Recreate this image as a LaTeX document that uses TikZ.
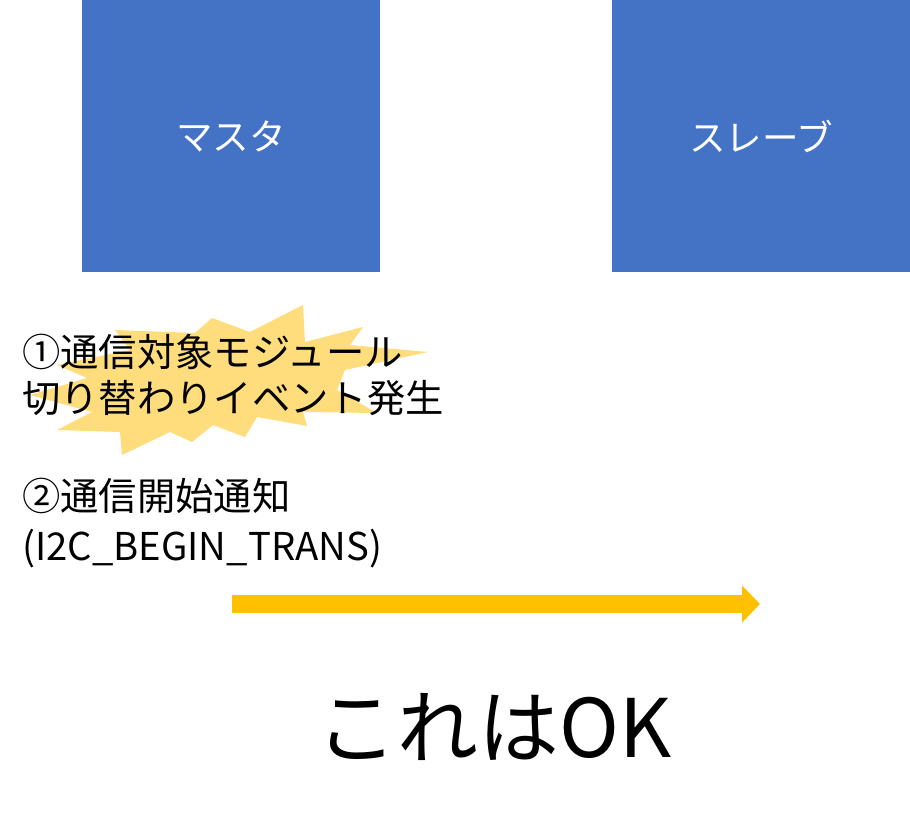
\documentclass[tikz,border=0pt]{standalone}
\usepackage{fontspec}
\setmainfont{Noto Sans CJK JP}
\usetikzlibrary{arrows.meta}
\definecolor{unitblue}{HTML}{4472C4}
\definecolor{burstgold}{HTML}{FFDC7C}
\definecolor{arrowgold}{HTML}{FFC000}

\begin{document}
\begin{tikzpicture}[x=0.02cm,y=-0.02cm,
  unit/.style={fill=unitblue,text=white,minimum width=5.96cm,minimum height=5.44cm,
    inner sep=0pt,font=\fontsize{20.8pt}{24pt}\selectfont},
  memo/.style={anchor=west,align=left,inner sep=0pt,font=\fontsize{21.8pt}{26pt}\selectfont}]
\useasboundingbox (0,0) rectangle (910,832);
\node[unit] (master) at (231,136) {マスタ};
\node[unit] (slave) at (761,136) {スレーブ};
% burst behind the first note
\fill[burstgold] (303,305) -- (305,342) -- (363,327) -- (350,345) -- (428,352) -- (345,370)
  -- (337,390) -- (377,413) -- (303,412) -- (307,426) -- (257,417) -- (245,437) -- (213,425)
  -- (192,442) -- (170,432) -- (122,455) -- (120,432) -- (57,430) -- (92,412) -- (30,395)
  -- (87,378) -- (57,365) -- (130,350) -- (115,330) -- (195,333) -- (212,318) -- (250,332) -- cycle;
\node[memo] (event) at (22,375) {①通信対象モジュール\\切り替わりイベント発生};
\node[memo] (notify) at (22,523) {②通信開始通知\\[2pt](I2C\_BEGIN\_TRANS)};
\coordinate (from) at (232,604);
\coordinate (to) at (760,604);
\draw[arrowgold,line width=0.36cm,-{Triangle[length=0.36cm,width=0.72cm]}] (from) -- (to);
\node[font=\fontsize{46pt}{50pt}\selectfont] (verdict) at (494,727) {これはOK};
\end{tikzpicture}
\end{document}
